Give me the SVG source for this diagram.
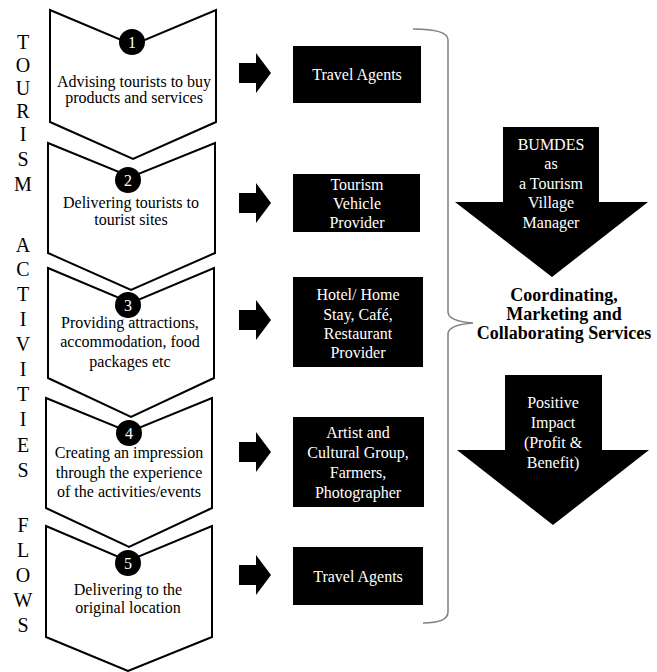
<svg xmlns="http://www.w3.org/2000/svg" width="657" height="672" viewBox="0 0 657 672">
<style>
.chev{fill:#fff;stroke:#000;stroke-width:2;stroke-linejoin:miter}
text{font-family:'Liberation Serif','Times New Roman',Times,'DejaVu Serif',serif}
.t{font-size:16px;fill:#000;text-anchor:middle}
.w{font-size:16px;fill:#fff;text-anchor:middle}
.b{font-size:18px;font-weight:bold;fill:#000;text-anchor:middle}
.v{font-size:20px;fill:#000;text-anchor:middle}
.box{fill:#000}
.arr{fill:#000}
.brace{fill:none;stroke:#808080;stroke-width:1.5}
</style>
<rect width="657" height="672" fill="#fff"/>
<g id="side-label">
<text class="v" x="23" y="49">T</text>
<text class="v" x="23" y="72">O</text>
<text class="v" x="23" y="95">U</text>
<text class="v" x="23" y="118">R</text>
<text class="v" x="23" y="141">I</text>
<text class="v" x="23" y="166">S</text>
<text class="v" x="23" y="191">M</text>
<text class="v" x="23" y="252">A</text>
<text class="v" x="23" y="276">C</text>
<text class="v" x="23" y="301">T</text>
<text class="v" x="23" y="326">I</text>
<text class="v" x="23" y="351">V</text>
<text class="v" x="23" y="376">I</text>
<text class="v" x="23" y="401">T</text>
<text class="v" x="23" y="426">I</text>
<text class="v" x="23" y="452">E</text>
<text class="v" x="23" y="477">S</text>
<text class="v" x="23" y="532">F</text>
<text class="v" x="23" y="557">L</text>
<text class="v" x="23" y="582">O</text>
<text class="v" x="23" y="607">W</text>
<text class="v" x="23" y="632">S</text>
</g>
<g id="step1">
<polygon class="chev" points="50,10 133,45 216,10 216,122 133,159 50,122"/>
<circle cx="132" cy="42" r="13" fill="#000"/>
<text class="w" x="132" y="48">1</text>
<text class="t" x="134" y="87">Advising tourists to buy</text>
<text class="t" x="134" y="103">products and services</text>
</g>
<g id="step2">
<polygon class="chev" points="48,143 131,177 215,143 215,253 131,290 48,253"/>
<circle cx="128" cy="180" r="13" fill="#000"/>
<text class="w" x="128" y="186">2</text>
<text class="t" x="131" y="208">Delivering tourists to</text>
<text class="t" x="131" y="225">tourist sites</text>
</g>
<g id="step3">
<polygon class="chev" points="48,268 131,303 214,268 214,378 131,417 48,378"/>
<circle cx="128" cy="305" r="13" fill="#000"/>
<text class="w" x="128" y="311">3</text>
<text class="t" x="130" y="328">Providing attractions,</text>
<text class="t" x="130" y="347">accommodation, food</text>
<text class="t" x="130" y="367">packages etc</text>
</g>
<g id="step4">
<polygon class="chev" points="46,398 129,432 212,398 212,508 129,547 46,508"/>
<circle cx="129" cy="433" r="13" fill="#000"/>
<text class="w" x="129" y="439">4</text>
<text class="t" x="129" y="458">Creating an impression</text>
<text class="t" x="129" y="478">through the experience</text>
<text class="t" x="129" y="497">of the activities/events</text>
</g>
<g id="step5">
<polygon class="chev" points="46,526 128,561 212,526 212,637 128,671 46,637"/>
<circle cx="128" cy="563" r="13" fill="#000"/>
<text class="w" x="128" y="569">5</text>
<text class="t" x="128" y="595">Delivering to the</text>
<text class="t" x="128" y="613">original location</text>
</g>
<g id="connectors">
<polygon class="arr" points="239,63 256,63 256,53 271,73 256,93 256,83 239,83"/>
<polygon class="arr" points="239,193 256,193 256,183 271,203 256,223 256,213 239,213"/>
<polygon class="arr" points="239,310 256,310 256,300 271,320 256,340 256,330 239,330"/>
<polygon class="arr" points="239,442 256,442 256,432 271,452 256,472 256,462 239,462"/>
<polygon class="arr" points="239,565 256,565 256,555 271,575 256,595 256,585 239,585"/>
<path class="brace" d="M413,29 Q448,29 448,40 L448,312 Q448,321 473,323 Q448,325 448,334 L448,612 Q448,623 423,623"/>
</g>
<g id="provider1">
<rect class="box" x="293" y="46" width="128" height="57"/>
<text class="w" x="357" y="80">Travel Agents</text>
</g>
<g id="provider2">
<rect class="box" x="293" y="174" width="127" height="58"/>
<text class="w" x="357" y="190">Tourism</text>
<text class="w" x="357" y="209">Vehicle</text>
<text class="w" x="357" y="228">Provider</text>
</g>
<g id="provider3">
<rect class="box" x="293" y="277" width="130" height="90"/>
<text class="w" x="358" y="300">Hotel/ Home</text>
<text class="w" x="358" y="320">Stay, Café,</text>
<text class="w" x="358" y="339">Restaurant</text>
<text class="w" x="358" y="358">Provider</text>
</g>
<g id="provider4">
<rect class="box" x="293" y="417" width="131" height="90"/>
<text class="w" x="358" y="438">Artist and</text>
<text class="w" x="358" y="458">Cultural Group,</text>
<text class="w" x="358" y="478">Farmers,</text>
<text class="w" x="358" y="498">Photographer</text>
</g>
<g id="provider5">
<rect class="box" x="293" y="547" width="130" height="58"/>
<text class="w" x="358" y="582">Travel Agents</text>
</g>
<g id="bumdes">
<polygon class="arr" points="503,127 599,127 599,202 648,202 552,277 455,202 503,202"/>
<text class="w" x="551" y="150">BUMDES</text>
<text class="w" x="551" y="169">as</text>
<text class="w" x="551" y="189">a Tourism</text>
<text class="w" x="551" y="208">Village</text>
<text class="w" x="551" y="228">Manager</text>
</g>
<g id="services">
<text class="b" x="564" y="301">Coordinating,</text>
<text class="b" x="564" y="320">Marketing and</text>
<text class="b" x="564" y="339">Collaborating Services</text>
</g>
<g id="impact">
<polygon class="arr" points="505,375 602,375 602,450 649,450 553,525 457,450 505,450"/>
<text class="w" x="553" y="408">Positive</text>
<text class="w" x="553" y="428">Impact</text>
<text class="w" x="553" y="448">(Profit &amp;</text>
<text class="w" x="553" y="468">Benefit)</text>
</g>
</svg>
